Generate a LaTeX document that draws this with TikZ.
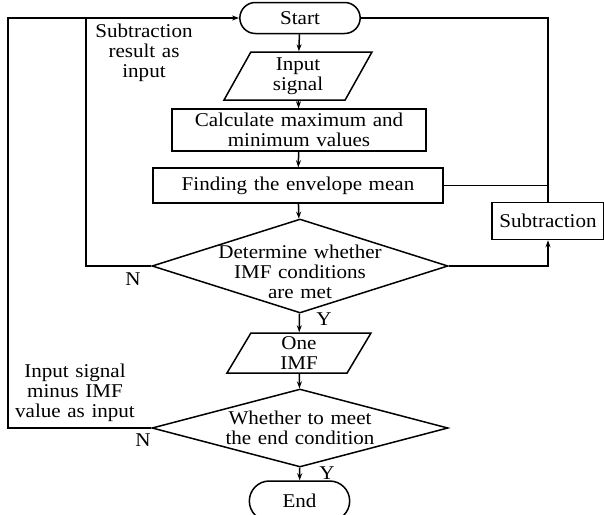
\documentclass[tikz,border=0pt]{standalone}
\usepackage{fontspec}
\setmainfont{Liberation Serif}[FakeStretch=1.08,WordSpace=1.25]
\usetikzlibrary{shapes.geometric,shapes.misc,arrows.meta,positioning}

\tikzset{
  terminal/.style={rounded rectangle, minimum width=127pt, minimum height=31pt},
  process/.style={rectangle, inner sep=2pt},
  inout/.style={trapezium, trapezium left angle=54, trapezium right angle=126,
    trapezium stretches body, inner sep=0pt},
  decision/.style={diamond, inner sep=0pt, minimum width=296pt},
  flowarrow/.style={-{Stealth[length=7pt,width=5pt]}}
}

\begin{document}
\begin{tikzpicture}[x=1pt,y=-1pt,font=\fontsize{19.5}{20}\selectfont,line width=1.5pt]
        \useasboundingbox (0,0) rectangle (604,514);

        \begin{scope}[every node/.style={draw,align=center}]
          \node[terminal] (start)   at (300,18)    {Start};
          \node[inout, minimum width=148pt, minimum height=48pt] (input) at (298,76) {Input\\signal};
          \node[process, minimum width=254pt, minimum height=42pt] (calc) at (299,130) {Calculate maximum and\\minimum values};
          \node[process, minimum width=290pt, minimum height=35pt] (envmean) at (298,185.5) {Finding the envelope mean};
          \node[decision, minimum height=94pt,
                label={[draw=none,align=center,yshift=-6pt]center:Determine whether\\IMF conditions\\are met}] (judge1) at (300,266) {};
          \node[process, minimum width=112pt, minimum height=37pt] (subtr) at (548,221) {Subtraction};
          \node[inout, minimum width=144pt, minimum height=40pt] (imf) at (299,353) {One\\IMF};
          \node[decision, minimum height=78pt,
                label={[draw=none,align=center]center:Whether to meet\\the end condition}] (judge2) at (300,428) {};
          \node[terminal, minimum width=107pt, minimum height=40pt] (stop) at (299.5,501) {End};
        \end{scope}

        % loop corners
        \coordinate (outercorner) at (8,18);
        \coordinate (innercorner) at (86,18);

        \begin{scope}[every edge/.style={draw,flowarrow}]
          \path (start)   edge (input);
          \path (input)   edge (calc);
          \path (calc)    edge (envmean);
          \path (envmean) edge (judge1);
          \path (judge1)  edge (imf);
          \path (imf)     edge (judge2);
          \path (judge2)  edge (stop);
        \end{scope}

        \draw[flowarrow] (judge2.west) -| (outercorner) -- (start.west);
        \draw (judge1.west) -| (innercorner);
        \draw (start.east) -| (subtr.north);
        \draw (envmean.east) -- (envmean.east -| subtr.north);
        \draw[flowarrow] (judge1.east) -| (subtr.south);

        \node[align=center] (note1) at (144,53) {Subtraction\\result as\\input};
        \node[align=center] (note2) at (75,393) {Input signal\\minus IMF\\value as input};
        \node (no1)  at (133,279) {N};
        \node (yes1) at (324,319) {Y};
        \node (no2)  at (143,440) {N};
        \node (yes2) at (327,473) {Y};

      \end{tikzpicture}
\end{document}
